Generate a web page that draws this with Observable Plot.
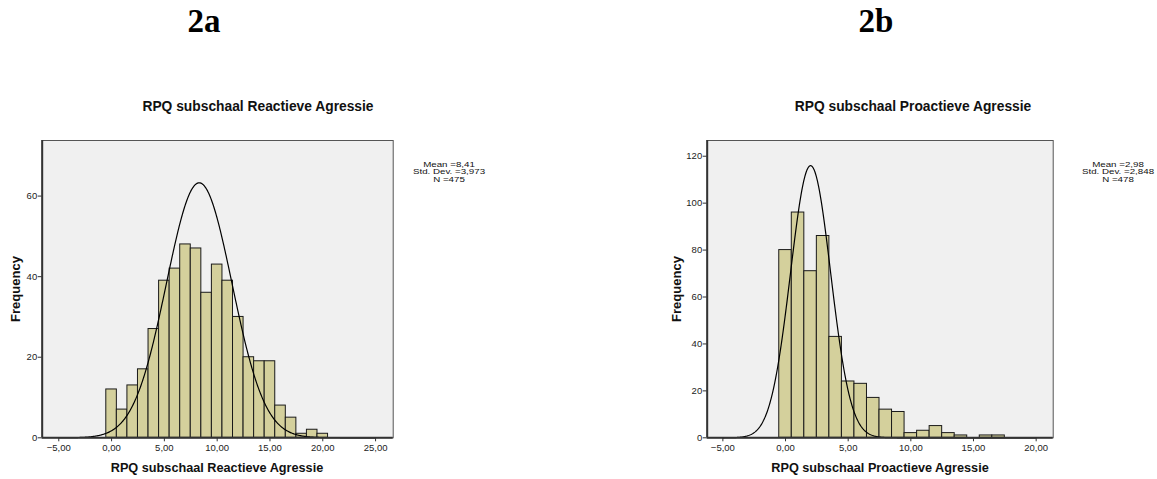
<!DOCTYPE html>
<html>
<head>
<meta charset="utf-8">
<script src="https://cdn.jsdelivr.net/npm/d3@7"></script>
<script src="https://cdn.jsdelivr.net/npm/@observablehq/plot@0.6"></script>
<style>
  html, body { margin: 0; padding: 0; background: #fff; }
  #page { position: relative; width: 1157px; height: 479px; overflow: hidden; }
  .panel { position: absolute; top: 130px; }
  #overlay { position: absolute; left: 0; top: 0; pointer-events: none; }
</style>
</head>
<body>
<div id="page">
  <div id="left" class="panel" style="left:0px"></div>
  <div id="right" class="panel" style="left:660px"></div>
  <svg id="overlay" width="1157" height="479" font-family="Liberation Sans, Arial, sans-serif"></svg>
</div>
<script>
// ---- data: panel 2a (Reactieve Agressie) ----
const reactScores = [0,1,2,3,4,5,6,7,8,9,10,11,12,13,14,15,16,17,18,19,20];
const reactFreq   = [12,7,13,17,27,39,42,48,47,36,43,39,30,20,19,19,8,5,1,2,1];
const reactStats  = ["Mean =8,41", "Std. Dev. =3,973", "N =475"];
const reactTicksX = [-5,0,5,10,15,20,25];
const reactTicksY = [0,20,40,60];
// fitted normal curve as drawn (centre, spread, peak height)
const reactCurve  = {mu: 8.3, sd: 3.1, peak: 63.3, from: -5, to: 25};

// ---- data: panel 2b (Proactieve Agressie) ----
const proScores = [0,1,2,3,4,5,6,7,8,9,10,11,12,13,14,15,16,17];
const proFreq   = [80,96,71,86,43,24,23,17,12,11,2,3,5,2,1,0,1,1];
const proStats  = ["Mean =2,98", "Std. Dev. =2,848", "N =478"];
const proTicksX = [-5,0,5,10,15,20];
const proTicksY = [0,20,40,60,80,100,120];
const proCurve  = {mu: 2.0, sd: 1.6, peak: 116, from: -5, to: 20};

const fmt = d => d3.format(".2f")(d).replace(".", ",");

function curvePoints(c) {
  const pts = [];
  for (let x = c.from; x <= c.to + 1e-9; x += 0.05) {
    pts.push({x, y: c.peak * Math.exp(-0.5 * ((x - c.mu) / c.sd) ** 2)});
  }
  return pts;
}

function panel(scores, freq, ticksX, ticksY, curve, xDomain, yDomain, marginLeft, marginRight) {
  const bars = scores.map((s, i) => ({s, n: freq[i]})).filter(d => d.n > 0);
  return Plot.plot({
    width: 400,
    height: 350,
    marginLeft,
    marginRight,
    marginTop: 10,
    marginBottom: 42.7,
    style: {fontFamily: "Liberation Sans, Arial, sans-serif", fontSize: "9.5px", background: "transparent", color: "#222", overflow: "visible"},
    x: {domain: xDomain},
    y: {domain: yDomain},
    marks: [
      Plot.frame({fill: "#f0f0f0", stroke: "#555", strokeWidth: 1}),
      Plot.rect(bars, {x1: d => d.s - 0.5, x2: d => d.s + 0.5, y1: 0, y2: "n", fill: "#d4d09c", stroke: "#1a1a1a", strokeWidth: 1}),
      Plot.line(curvePoints(curve), {x: "x", y: "y", stroke: "#000", strokeWidth: 1.2}),
      Plot.ruleX([xDomain[0]], {stroke: "#333", strokeWidth: 2}),
      Plot.ruleY([0], {stroke: "#333", strokeWidth: 2}),
      Plot.axisX({ticks: ticksX, tickFormat: fmt, tickSize: 4, tickPadding: 2, label: null, stroke: "#333"}),
      Plot.axisY({ticks: ticksY, tickSize: 4, tickPadding: 1, label: null, stroke: "#333"})
    ]
  });
}

document.getElementById("left").appendChild(
  panel(reactScores, reactFreq, reactTicksX, reactTicksY, reactCurve, [-6.57, 26.67], [0, 73.8], 41.7, 7.3)
);
document.getElementById("right").appendChild(
  panel(proScores, proFreq, proTicksX, proTicksY, proCurve, [-6.25, 21.36], [0, 126.7], 46.7, 7.3)
);

// ---- overlay texts ----
const ov = d3.select("#overlay");
function txt(x, y, s, opts = {}) {
  const t = ov.append("text").attr("text-anchor", opts.anchor || "middle")
    .attr("font-size", opts.size || 12).attr("font-weight", opts.weight || "normal")
    .attr("fill", opts.fill || "#000").text(s);
  if (opts.family) t.attr("font-family", opts.family);
  const sx = opts.sx || 1;
  t.attr("transform", `translate(${x},${y})${opts.rotate ? " rotate(-90)" : ""} scale(${sx},1)`);
  return t;
}
// panel letters
txt(204, 32, "2a", {size: 33, weight: "bold", family: "Liberation Serif, Times New Roman, serif"});
txt(876, 32, "2b", {size: 33, weight: "bold", family: "Liberation Serif, Times New Roman, serif"});
// chart titles
txt(258, 111, "RPQ subschaal Reactieve Agressie", {size: 13.8, weight: "bold", fill: "#111"});
txt(913, 111, "RPQ subschaal Proactieve Agressie", {size: 13.8, weight: "bold", fill: "#111"});
// axis titles
txt(217, 472, "RPQ subschaal Reactieve Agressie", {size: 12.7, weight: "bold", fill: "#111"});
txt(880, 472, "RPQ subschaal Proactieve Agressie", {size: 12.7, weight: "bold", fill: "#111"});
txt(20, 289, "Frequency", {size: 13, weight: "bold", fill: "#111", rotate: true});
txt(681, 289, "Frequency", {size: 13, weight: "bold", fill: "#111", rotate: true});
// statistics boxes
reactStats.forEach((s, i) => txt(449, 167 + i * 7.3, s, {size: 8, fill: "#111", sx: 1.22}));
proStats.forEach((s, i) => txt(1118, 167 + i * 7.3, s, {size: 8, fill: "#111", sx: 1.22}));
</script>
</body>
</html>
